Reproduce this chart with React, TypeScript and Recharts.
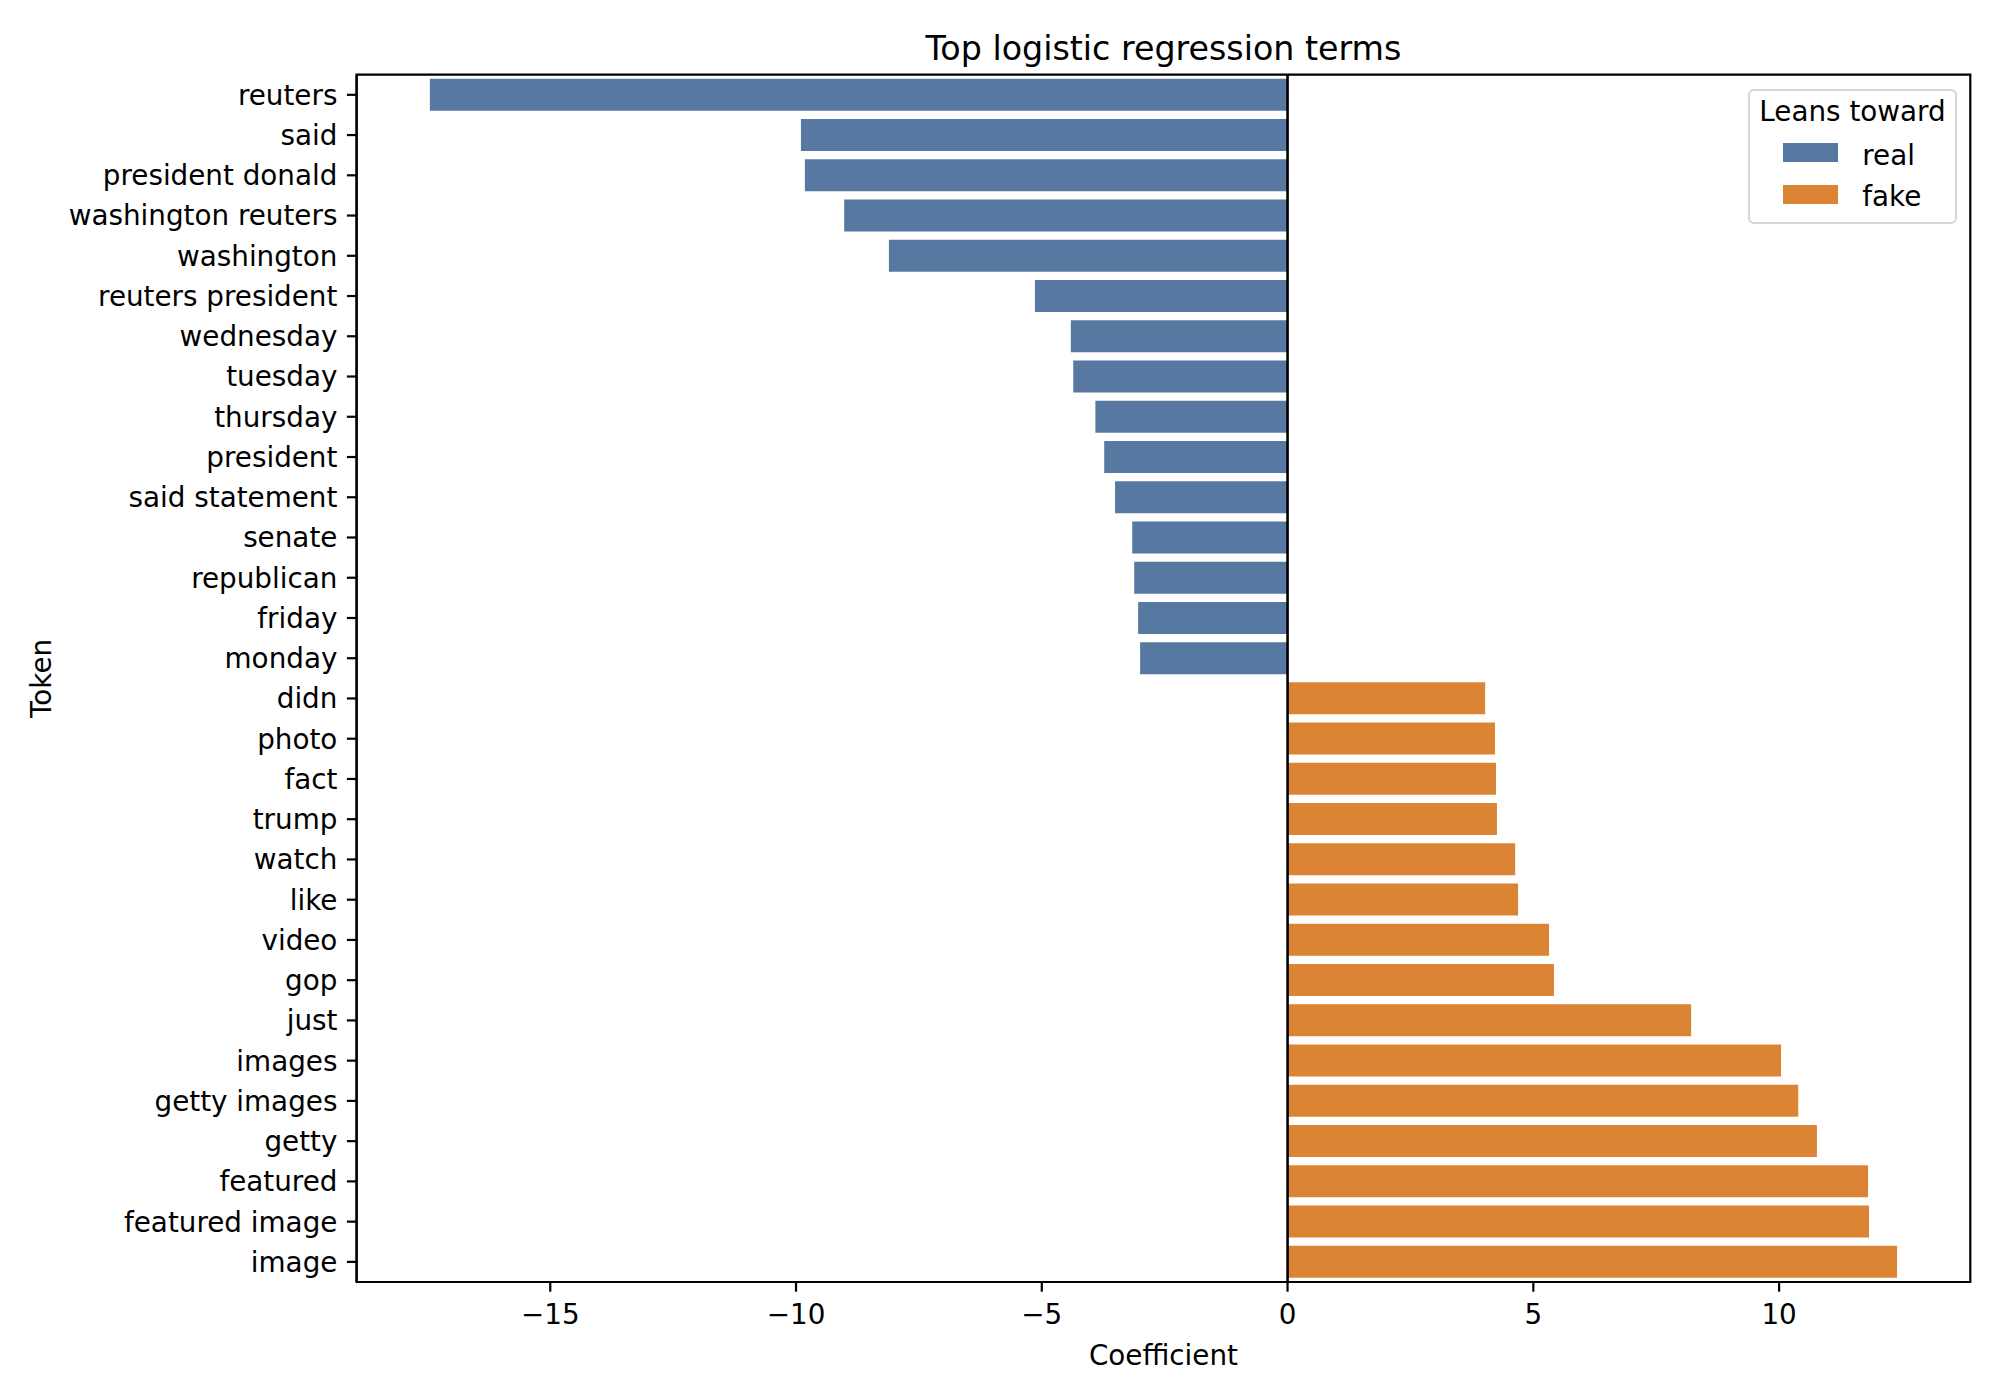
import React from 'react';
import { BarChart, Bar, XAxis, YAxis, Cell, ReferenceLine, ReferenceArea, Legend, Label } from 'recharts';

const tokens: string[] = [
  'reuters', 'said', 'president donald', 'washington reuters', 'washington',
  'reuters president', 'wednesday', 'tuesday', 'thursday', 'president',
  'said statement', 'senate', 'republican', 'friday', 'monday',
  'didn', 'photo', 'fact', 'trump', 'watch',
  'like', 'video', 'gop', 'just', 'images',
  'getty images', 'getty', 'featured', 'featured image', 'image',
];

const coefficients: number[] = [
  -17.45, -9.9, -9.82, -9.02, -8.11,
  -5.14, -4.41, -4.36, -3.91, -3.73,
  -3.51, -3.16, -3.12, -3.04, -3.0,
  4.02, 4.22, 4.24, 4.26, 4.63,
  4.69, 5.32, 5.42, 8.21, 10.04,
  10.39, 10.77, 11.81, 11.83, 12.4,
];

const leansToward: string[] = [
  'real', 'real', 'real', 'real', 'real',
  'real', 'real', 'real', 'real', 'real',
  'real', 'real', 'real', 'real', 'real',
  'fake', 'fake', 'fake', 'fake', 'fake',
  'fake', 'fake', 'fake', 'fake', 'fake',
  'fake', 'fake', 'fake', 'fake', 'fake',
];

const legendLabels: string[] = ['real', 'fake'];
const xTicks: number[] = [-15, -10, -5, 0, 5, 10];
const xDomain: [number, number] = [-18.94, 13.89];

const COLORS: Record<string, string> = { real: '#5778a0', fake: '#db8434' };
const FONT = "'DejaVu Sans', sans-serif";
const FS = 27.8;

const data = tokens.map((t, i) => ({ token: t, coef: coefficients[i], group: leansToward[i] }));

const fmt = (v: number) => (v < 0 ? '\u2212' + Math.abs(v) : String(v));

const LegendBox = () => (
  <div
    style={{
      position: 'relative',
      boxSizing: 'border-box',
      width: 209,
      height: 135,
      border: '2.7px solid #d6d6d6',
      borderRadius: 6,
      background: 'rgba(255,255,255,0.8)',
      fontFamily: FONT,
      fontSize: FS,
      color: '#000',
    }}
  >
    <div style={{ position: 'absolute', left: 0, width: '100%', top: 7, lineHeight: '28px', textAlign: 'center', whiteSpace: 'nowrap' }}>
      Leans toward
    </div>
    {legendLabels.map((l, i) => (
      <React.Fragment key={l}>
        <div style={{ position: 'absolute', left: 33.3, top: 52.3 + i * 42, width: 55, height: 19, background: COLORS[l] }} />
        <div style={{ position: 'absolute', left: 112.3, top: 51 + i * 41, lineHeight: '28px', whiteSpace: 'nowrap' }}>{l}</div>
      </React.Fragment>
    ))}
  </div>
);

const TokenLabel = (props: any) => {
  const vb = props.viewBox || { x: 0, y: 74.7, width: 356.6, height: 1207.3 };
  const cx = vb.x + 42;
  const cy = vb.y + vb.height / 2;
  return (
    <text
      x={cx}
      y={cy}
      transform={`rotate(-90, ${cx}, ${cy})`}
      textAnchor="middle"
      dominantBaseline="central"
      fill="#000"
      fontSize={FS}
      fontFamily={FONT}
    >
      Token
    </text>
  );
};

export default function App() {
  return (
    <div style={{ position: 'absolute', left: 0, top: 0, width: 2000, height: 1400, background: '#fff', fontFamily: FONT }}>
      <div
        style={{
          position: 'absolute',
          left: 1163.5 - 600,
          width: 1200,
          top: 32,
          lineHeight: '34px',
          textAlign: 'center',
          fontSize: 33.3,
          fontFamily: FONT,
          color: '#000',
          zIndex: 2,
        }}
      >
        Top logistic regression terms
      </div>
      <BarChart
        width={2000}
        height={1400}
        data={data}
        layout="vertical"
        margin={{ top: 74.7, right: 29.7, bottom: 78, left: 0 }}
        barCategoryGap="10%"
      >
        <XAxis
          type="number"
          dataKey="coef"
          domain={xDomain}
          allowDataOverflow
          ticks={xTicks}
          tickFormatter={fmt}
          height={40}
          tickSize={9.7}
          tickMargin={13}
          axisLine={{ stroke: '#000', strokeWidth: 2.2 }}
          tickLine={{ stroke: '#000', strokeWidth: 2.2 }}
          tick={{ fill: '#000', fontSize: FS, fontFamily: FONT }}
        >
          <Label value="Coefficient" position="bottom" offset={23} fill="#000" fontSize={FS} fontFamily={FONT} />
        </XAxis>
        <YAxis
          type="category"
          dataKey="token"
          width={356.6}
          interval={0}
          tickSize={9.7}
          tickMargin={9.5}
          axisLine={{ stroke: '#000', strokeWidth: 2.2 }}
          tickLine={{ stroke: '#000', strokeWidth: 2.2 }}
          tick={{ fill: '#000', fontSize: FS, fontFamily: FONT }}
        >
          <Label content={TokenLabel} />
        </YAxis>
        <Bar dataKey="coef" isAnimationActive={false}>
          {data.map((d, i) => (
            <Cell key={i} fill={COLORS[d.group]} />
          ))}
        </Bar>
        <ReferenceLine x={0} stroke="#000" strokeWidth={2.6} />
        <ReferenceArea x1={xDomain[0]} x2={xDomain[1]} fill="none" fillOpacity={0} stroke="#000" strokeWidth={2.2} strokeOpacity={1} ifOverflow="visible" />
        <Legend
          layout="vertical"
          align="center"
          verticalAlign="middle"
          wrapperStyle={{ position: 'absolute', left: 1748, top: 89, width: 209, height: 135 }}
          content={() => <LegendBox />}
        />
      </BarChart>
    </div>
  );
}
